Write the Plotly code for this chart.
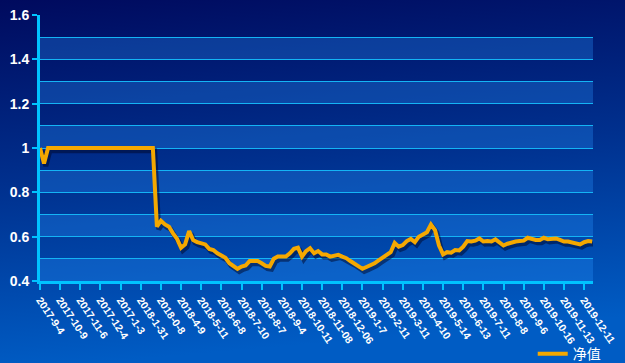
import base64
import plotly.graph_objects as go

# ---------------- data ----------------
tick_labels = ["2017-9-4", "2017-10-9", "2017-11-6", "2017-12-4", "2017-1-3", "2018-1-31",
               "2018-0-8", "2018-4-9", "2018-5-11", "2018-6-8", "2018-7-10", "2018-8-7",
               "2018-9-4", "2018-10-11", "2018-11-08", "2018-12-06", "2019-1-7", "2019-2-11",
               "2019-3-11", "2019-4-10", "2019-5-14", "2019-6-13", "2019-7-11", "2019-8-8",
               "2019-9-6", "2019-10-16", "2019-11-13", "2019-12-11"]
points_per_label = 5

nav_values = [
    1.0, 0.93, 1.0, 1.0, 1.0, 1.0, 1.0, 1.0, 1.0, 1.0,
    1.0, 1.0, 1.0, 1.0, 1.0, 1.0, 1.0, 1.0, 1.0, 1.0,
    1.0, 1.0, 1.0, 1.0, 1.0, 1.0, 1.0, 1.0, 1.0, 0.645,
    0.672, 0.655, 0.645, 0.615, 0.59, 0.55, 0.565, 0.625, 0.585, 0.575,
    0.572, 0.565, 0.545, 0.54, 0.525, 0.515, 0.505, 0.48, 0.47, 0.455,
    0.465, 0.47, 0.49, 0.49, 0.49, 0.48, 0.468, 0.465, 0.50, 0.51,
    0.512, 0.51, 0.525, 0.545, 0.55, 0.51, 0.535, 0.548, 0.525, 0.535,
    0.52, 0.52, 0.51, 0.515, 0.518, 0.51, 0.503, 0.49, 0.48, 0.465,
    0.455, 0.463, 0.47, 0.48, 0.493, 0.505, 0.515, 0.53, 0.572, 0.555,
    0.562, 0.58, 0.59, 0.575, 0.60, 0.612, 0.62, 0.655, 0.63, 0.56,
    0.52, 0.53, 0.528, 0.54, 0.538, 0.555, 0.58, 0.578, 0.582, 0.592,
    0.578, 0.58, 0.578, 0.588, 0.575, 0.56, 0.568, 0.575, 0.578, 0.58,
    0.582, 0.595, 0.588, 0.585, 0.585, 0.595, 0.588, 0.59, 0.592, 0.585,
    0.578, 0.578, 0.575, 0.568, 0.565, 0.575, 0.58, 0.578,
]
series_name = "净值"

x_idx = list(range(len(nav_values)))
tick_vals = [i * points_per_label for i in range(len(tick_labels))]

# ---------------- styling ----------------
W, H = 625, 363
ML, MR, MT, MB = 40, 32, 15, 82
CYAN = "#14b4f5"
AXIS = "#00c3ff"
ORANGE = "#f5a800"
FONT = "Arial, 'Liberation Sans', 'Noto Sans CJK SC', sans-serif"

svg = f'''<svg xmlns="http://www.w3.org/2000/svg" width="{W}" height="{H}" viewBox="0 0 {W} {H}" preserveAspectRatio="none">
<defs><linearGradient id="g" x1="0" y1="0" x2="0.15" y2="1">
<stop offset="0" stop-color="#000a5e"/>
<stop offset="0.5" stop-color="#00308e"/>
<stop offset="1" stop-color="#005cc4"/>
</linearGradient></defs>
<rect width="{W}" height="{H}" fill="url(#g)"/></svg>'''
bg_src = "data:image/svg+xml;base64," + base64.b64encode(svg.encode()).decode()

pw, ph = W - ML - MR, H - MT - MB

fig = go.Figure()

# soft shadow under the line
fig.add_trace(go.Scatter(
    x=[v + 0.45 for v in x_idx], y=[v - 0.012 for v in nav_values],
    mode="lines", line=dict(color="rgba(0,5,40,0.5)", width=5),
    hoverinfo="skip", showlegend=False))

fig.add_trace(go.Scatter(
    x=x_idx, y=nav_values, mode="lines", name=series_name,
    line=dict(color=ORANGE, width=4)))

# alternating lighter bands
y_min, y_max, step = 0.4, 1.6, 0.1
shapes = []
k = 0
lo = y_min
while lo < y_max - 1e-9:
    if k % 2 == 0:
        shapes.append(dict(type="rect", xref="paper", yref="y", x0=0, x1=1,
                           y0=lo, y1=lo + step, layer="below", line=dict(width=0),
                           fillcolor="rgba(40,150,255,0.3)"))
    lo += step
    k += 1

fig.update_layout(
    width=W, height=H,
    margin=dict(l=ML, r=MR, t=MT, b=MB, autoexpand=False),
    paper_bgcolor="#00308e",
    plot_bgcolor="rgba(0,0,0,0)",
    images=[dict(source=bg_src, xref="paper", yref="paper",
                 x=-ML / pw, y=1 + MT / ph, sizex=W / pw, sizey=H / ph,
                 sizing="stretch", layer="below", xanchor="left", yanchor="top")],
    shapes=shapes,
    font=dict(family=FONT, color="white"),
    showlegend=True,
    legend=dict(x=0.891, y=-0.275, xanchor="left", yanchor="middle",
                bgcolor="rgba(0,0,0,0)", font=dict(size=14, color="white"),
                itemwidth=30),
    xaxis=dict(
        range=[0, 137.2], tickmode="array", tickvals=tick_vals, ticktext=tick_labels,
        tickangle=56, tickfont=dict(size=10.5, color="white", family=FONT, weight="bold"),
        showgrid=False, zeroline=False, automargin=False,
        showline=True, linecolor=AXIS, linewidth=3,
        ticks="outside", ticklen=6, tickwidth=2, tickcolor=AXIS,
    ),
    yaxis=dict(
        range=[y_min, y_max], dtick=0.2, tick0=0.4, automargin=False,
        tickfont=dict(size=14, color="white", weight="bold"),
        showgrid=True, gridcolor=CYAN, gridwidth=1,
        minor=dict(dtick=0.1, showgrid=True, gridcolor=CYAN, gridwidth=1),
        zeroline=False,
        showline=True, linecolor=AXIS, linewidth=3,
        ticks="outside", ticklen=5, tickwidth=2, tickcolor=AXIS,
    ),
)

fig.write_html("out.html", config={"displayModeBar": False},
               post_script="document.body.style.margin='0';document.body.style.overflow='hidden';")
